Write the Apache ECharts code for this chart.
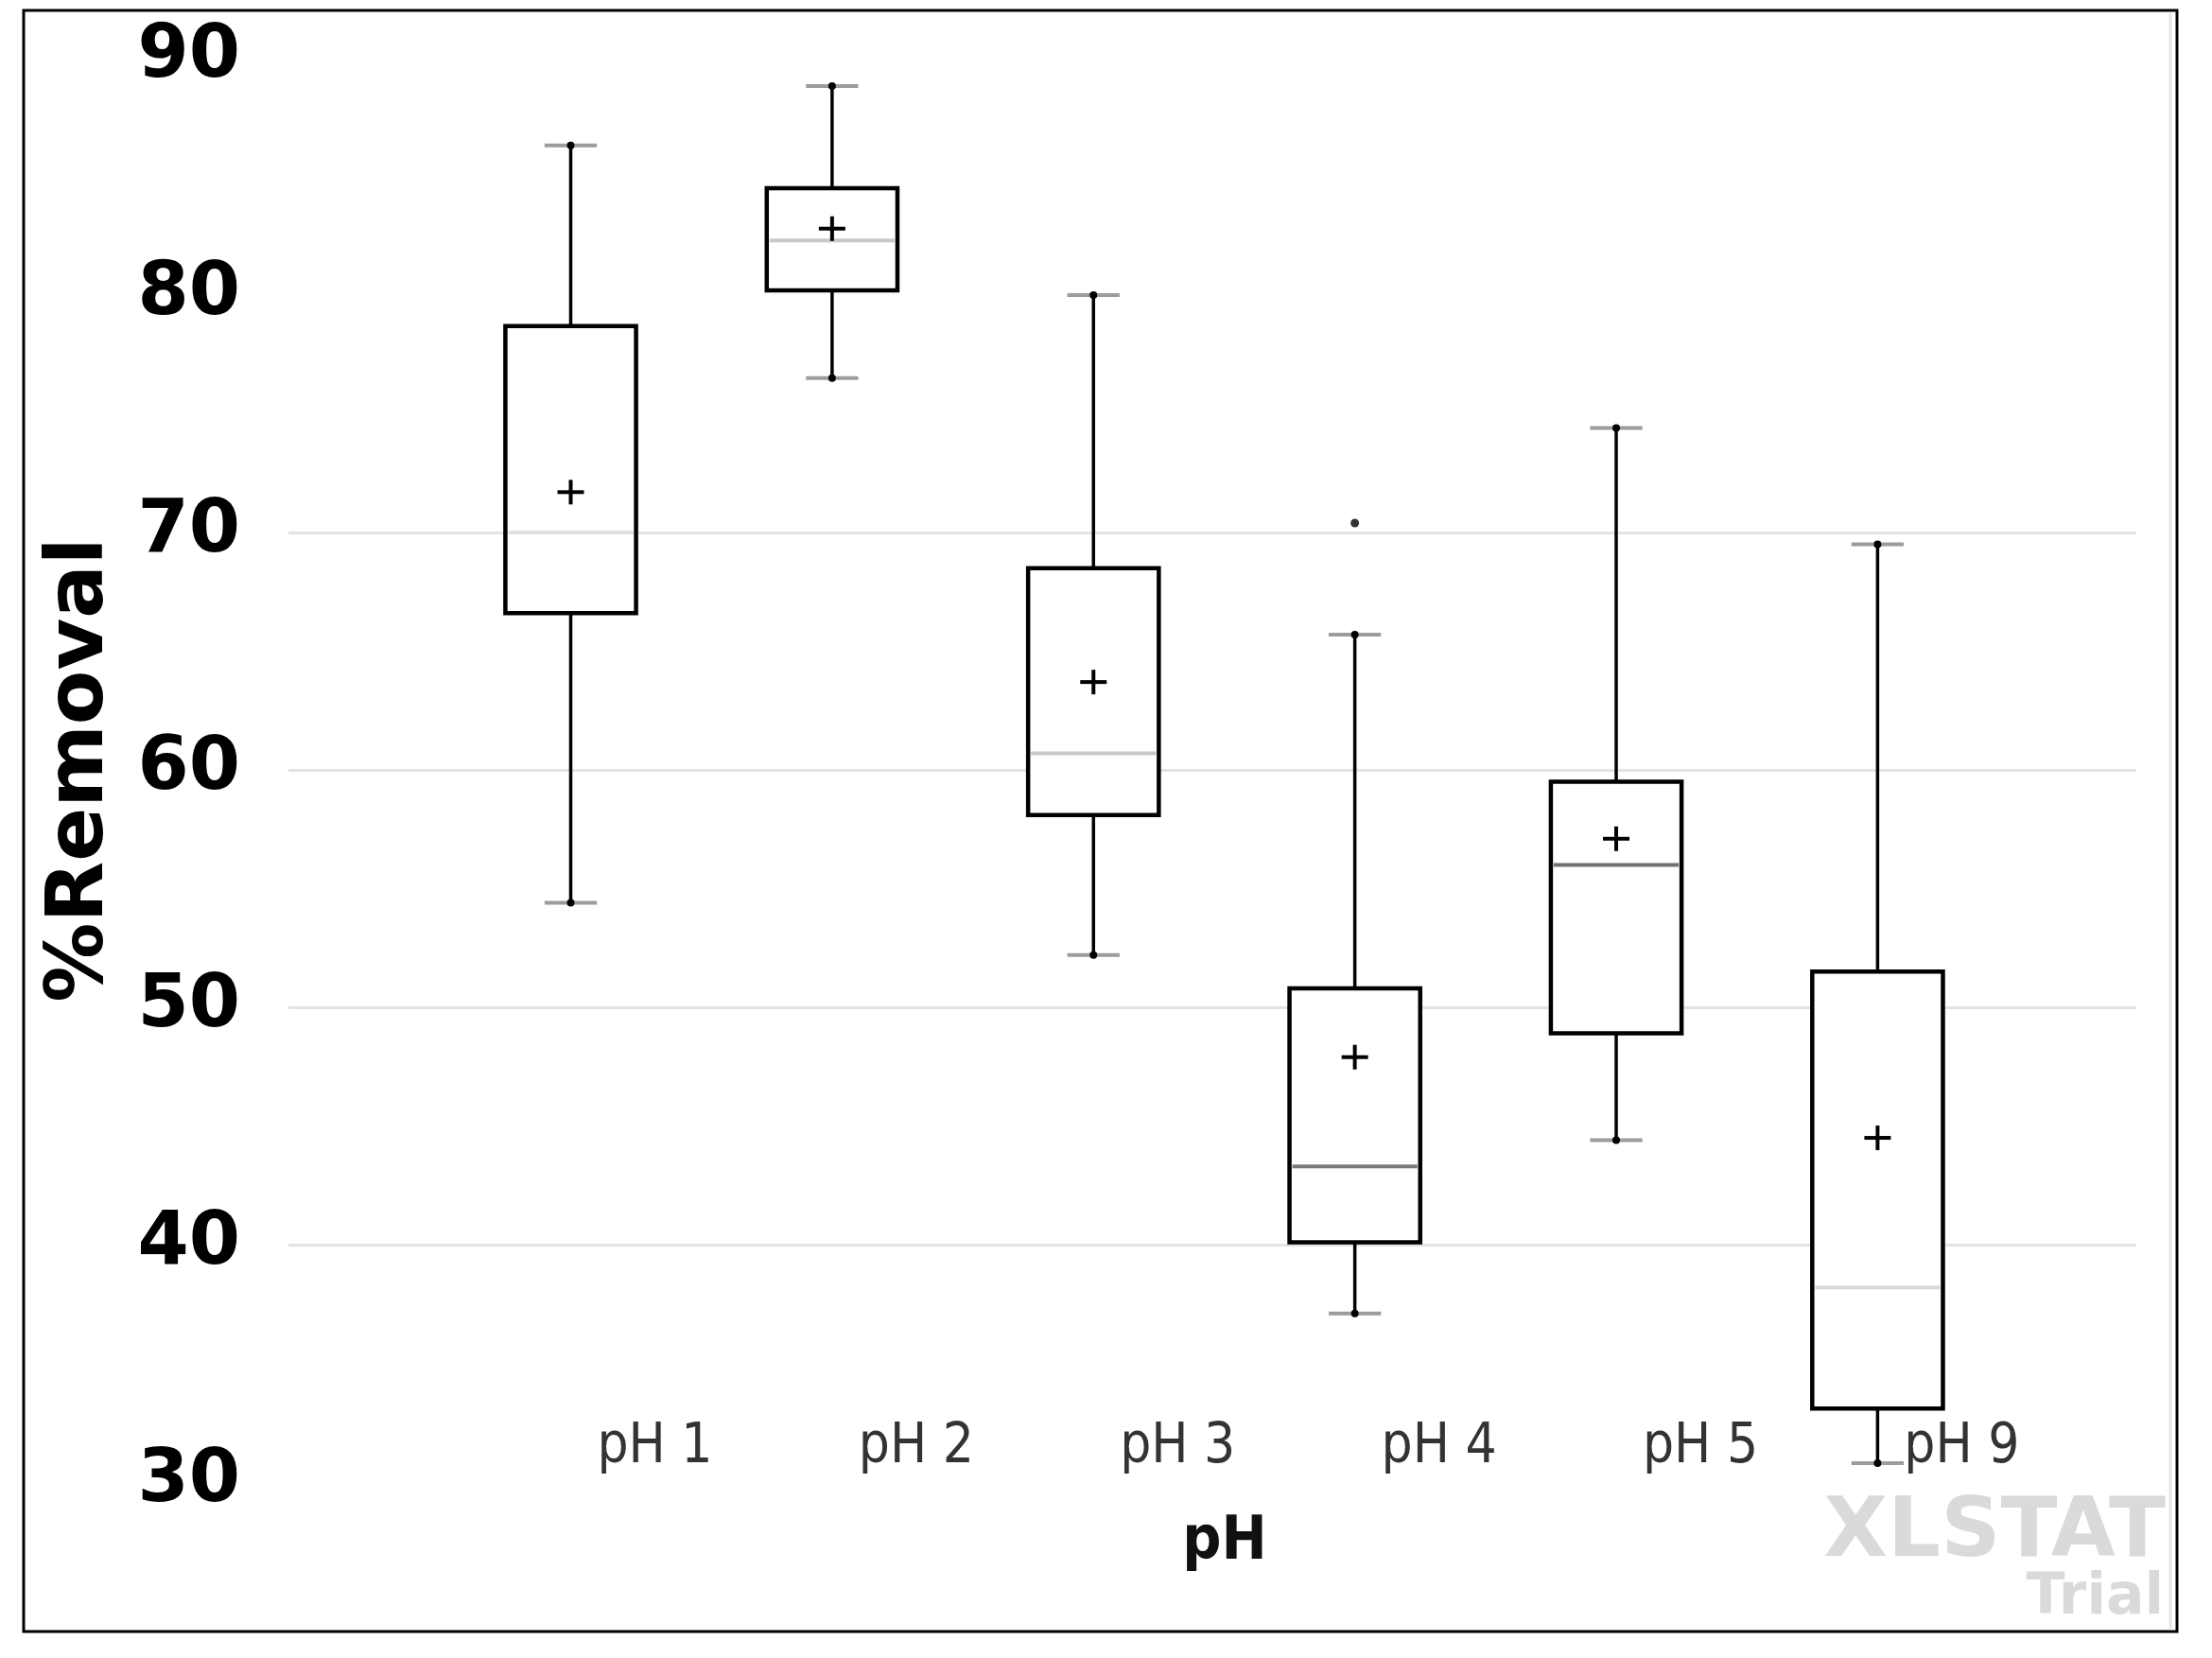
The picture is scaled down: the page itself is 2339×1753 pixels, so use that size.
<!DOCTYPE html>
<html><head><meta charset="utf-8">
<script src="https://cdn.jsdelivr.net/npm/echarts@6/dist/echarts.min.js"></script>
<style>html,body{margin:0;padding:0;background:#fff}#c{width:2339px;height:1753px}</style>
</head><body><div id="c"></div>
<script>
// ---- data ----
const categories = ['pH 1', 'pH 2', 'pH 3', 'pH 4', 'pH 5', 'pH 9'];
const minimum = [54.4, 76.5, 52.2, 37.1, 44.4, 30.8];
const q1      = [66.6, 80.2, 58.1, 40.1, 48.9, 33.1];
const median  = [70.0, 82.3, 60.7, 43.3, 56.0, 38.2];
const q3      = [78.7, 84.5, 68.5, 50.8, 59.5, 51.5];
const maximum = [86.3, 88.8, 80.0, 65.7, 74.4, 69.5];
const mean    = [71.7, 82.8, 63.7, 47.9, 57.1, 44.5];
const outlierCategory = ['pH 4'];
const outlierValue = [70.4];
const yTicks = [30, 40, 50, 60, 70, 80, 90];

// ---- styling (kept apart from the data) ----
const medianColors = ['#e0e0e0', '#c8c8c8', '#c8c8c8', '#7a7a7a', '#707070', '#dadada'];

// ---- build ----
const boxData = categories.map((c, i) => [i, minimum[i], q1[i], median[i], q3[i], maximum[i], mean[i]]);
const outlierData = outlierCategory.map((c, k) => [categories.indexOf(c), outlierValue[k]]);
const labelShift = 0.322;

function renderBox(params, api) {
  const i = api.value(0);
  const pMin = api.coord([i, api.value(1)]);
  const pQ1 = api.coord([i, api.value(2)]);
  const pMed = api.coord([i, api.value(3)]);
  const pQ3 = api.coord([i, api.value(4)]);
  const pMax = api.coord([i, api.value(5)]);
  const pMean = api.coord([i, api.value(6)]);
  const boxW = api.size([0.5, 0])[0];
  const capW = api.size([0.2, 0])[0];
  const cx = pQ1[0];
  const black = '#000';
  const capColor = '#9c9c9c';
  return {
    type: 'group',
    children: [
      { type: 'line', shape: { x1: cx, y1: pQ3[1], x2: cx, y2: pMax[1] }, style: { stroke: black, lineWidth: 3.5 } },
      { type: 'line', shape: { x1: cx, y1: pQ1[1], x2: cx, y2: pMin[1] }, style: { stroke: black, lineWidth: 3.5 } },
      { type: 'line', shape: { x1: cx - capW / 2, y1: pMax[1], x2: cx + capW / 2, y2: pMax[1] }, style: { stroke: capColor, lineWidth: 4 } },
      { type: 'line', shape: { x1: cx - capW / 2, y1: pMin[1], x2: cx + capW / 2, y2: pMin[1] }, style: { stroke: capColor, lineWidth: 4 } },
      { type: 'circle', shape: { cx: cx, cy: pMax[1], r: 4 }, style: { fill: black } },
      { type: 'circle', shape: { cx: cx, cy: pMin[1], r: 4 }, style: { fill: black } },
      { type: 'rect', shape: { x: cx - boxW / 2, y: pQ3[1], width: boxW, height: pQ1[1] - pQ3[1] },
        style: { fill: '#fff', stroke: black, lineWidth: 4.5 } },
      { type: 'line', shape: { x1: cx - boxW / 2 + 3, y1: pMed[1], x2: cx + boxW / 2 - 3, y2: pMed[1] },
        style: { stroke: medianColors[params.dataIndex], lineWidth: 4 } },
      { type: 'line', shape: { x1: cx - 14, y1: pMean[1], x2: cx + 14, y2: pMean[1] }, style: { stroke: black, lineWidth: 4 } },
      { type: 'line', shape: { x1: cx, y1: pMean[1] - 13, x2: cx, y2: pMean[1] + 13 }, style: { stroke: black, lineWidth: 4 } }
    ]
  };
}

const chart = echarts.init(document.getElementById('c'), null, { renderer: 'canvas' });
const gridColors = yTicks.map(v => (v >= 40 && v <= 70) ? '#e3e3e3' : 'rgba(0,0,0,0)');

chart.setOption({
  backgroundColor: '#fff',
  animation: false,
  grid: { left: 305, right: 80, top: 61, bottom: 186, containLabel: false },
  xAxis: {
    type: 'value',
    min: -1.08, max: 5.99,
    name: 'pH',
    nameLocation: 'middle',
    nameGap: 32,
    nameTextStyle: { fontFamily: 'DejaVu Sans Condensed, DejaVu Sans', fontWeight: 'bold', fontSize: 64, color: '#111', padding: [0, 0, 0, 26] },
    axisLine: { show: false },
    axisTick: { show: false },
    splitLine: { show: false },
    axisLabel: {
      customValues: categories.map((c, i) => i + labelShift),
      formatter: v => categories[Math.round(v - labelShift)] || '',
      margin: -36,
      verticalAlign: 'middle',
      fontFamily: 'DejaVu Sans Condensed, DejaVu Sans',
      fontSize: 58,
      color: '#333'
    }
  },
  yAxis: {
    type: 'value',
    min: yTicks[0], max: yTicks[yTicks.length - 1], interval: yTicks[1] - yTicks[0],
    name: '%Removal',
    nameLocation: 'middle',
    nameRotate: 90,
    nameGap: 177,
    nameTextStyle: { fontFamily: 'DejaVu Sans', fontWeight: 'bold', fontSize: 84, color: '#000' },
    axisLine: { show: false },
    axisTick: { show: false },
    splitLine: { show: true, lineStyle: { color: gridColors, width: 3 } },
    axisLabel: { margin: 51, fontFamily: 'DejaVu Sans', fontWeight: 'bold', fontSize: 78, color: '#000' }
  },
  series: [
    { type: 'custom', name: 'box', renderItem: renderBox, data: boxData, clip: false, z: 3 },
    { type: 'scatter', name: 'outlier', data: outlierData, symbol: 'circle', symbolSize: 9, itemStyle: { color: '#000' }, z: 4 }
  ],
  graphic: [
    { type: 'rect', shape: { x: 25, y: 11, width: 2277, height: 1714 }, style: { fill: 'none', stroke: '#000', lineWidth: 3 }, z: 10 },
    { type: 'line', shape: { x1: 2295, y1: 14, x2: 2295, y2: 1722 }, style: { stroke: '#e6e6e6', lineWidth: 3 }, z: 9 },
    { type: 'text', x: 2290, y: 1622, style: { text: 'XLSTAT', textAlign: 'right', textVerticalAlign: 'middle', font: 'bold 88px "DejaVu Sans"', fill: '#dadada' }, z: 1 },
    { type: 'text', x: 2288, y: 1690, style: { text: 'Trial', textAlign: 'right', textVerticalAlign: 'middle', font: 'bold 60px "DejaVu Sans"', fill: '#dadada' }, z: 1 }
  ]
});
</script>
</body></html>
